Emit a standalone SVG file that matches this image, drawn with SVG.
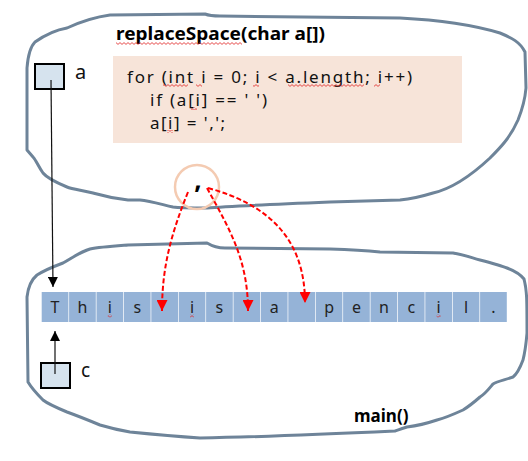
<svg xmlns="http://www.w3.org/2000/svg" width="528" height="461" viewBox="0 0 528 461">
<style>
  .blob { fill: none; stroke: #6E8499; stroke-width: 3; stroke-linejoin: round; }
  .var { fill: #D6E3EE; stroke: #000; stroke-width: 2; }
  .lbl { font-family: "Noto Sans", "Liberation Sans", sans-serif; fill: #111; }
  .title { font-family: "Noto Sans", "Liberation Sans", sans-serif; font-weight: bold; font-size: 17px; fill: #000; }
  .code { font-family: "Noto Sans", "Liberation Sans", sans-serif; font-size: 17px; fill: #111; }
  .cell { fill: #95B3D7; }
  .ch { font-family: "Noto Sans", "Liberation Sans", sans-serif; font-size: 16px; fill: #222; text-anchor: middle; }
  .ptr { fill: none; stroke: #111; stroke-width: 1.2; }
  .red { fill: none; stroke: #FF0000; stroke-width: 2; stroke-dasharray: 5 2.5; }
</style>
<defs>
  <marker id="ah-black" markerUnits="userSpaceOnUse" markerWidth="10" markerHeight="10" viewBox="0 0 10 10" refX="10" refY="5" orient="auto">
    <path d="M0,0 L10,5 L0,10 Z" fill="#000"/>
  </marker>
  <marker id="ah-red" markerUnits="userSpaceOnUse" markerWidth="11" markerHeight="11" viewBox="0 0 10 10" refX="10" refY="5" orient="auto">
    <path d="M0,0 L10,5 L0,10 Z" fill="#FF0000"/>
  </marker>
  <pattern id="sq" width="4" height="3" patternUnits="userSpaceOnUse">
    <path d="M0,0.6 L2,2.4 L4,0.6" fill="none" stroke="#E02020" stroke-width="0.8"/>
  </pattern>
</defs>

<g id="replaceSpace-frame">
  <path class="blob" d="M110,15 L205,14 Q210,16 220,16 L400,18 C440,20 470,24 500,33 C512,38 520,42 525,52 L526,88 C525,100 522,110 518,120 C510,138 500,148 490,158 C475,172 455,188 433,193 C420,197 410,199 400,200 L330,202 C280,204 230,206 207,208 C190,208 180,208 173,207 C160,204 150,201 140,200 L128,200 C110,198 100,195 93,193 C80,190 72,189 67,187 C55,182 47,178 43,173 C38,166 36,160 33,157 L27,150 L27,68 C28,55 30,47 35,42 C45,35 55,30 67,28 C80,22 95,17 110,15 Z"/>
  <text class="title" x="116" y="40" textLength="209" lengthAdjust="spacingAndGlyphs">replaceSpace(char a[])</text>
  <rect x="116" y="42" width="126" height="3" fill="url(#sq)"/>
</g>

<g id="main-frame">
  <path class="blob" d="M128,245 L207,243 C212,246 216,248 225,248 L330,249 C360,250 370,251 380,252 L453,253 C465,255 472,258 480,260 C495,264 502,266 507,268 C515,271 520,274 524,279 C527,290 527,300 527,333 C526,345 525,352 523,360 C520,368 517,374 513,377 C505,380 498,381 493,384 C488,390 485,394 480,397 C472,404 468,407 463,410 C452,415 445,418 437,420 C425,424 415,426 407,427 C400,429 398,430 395,431 C330,434 260,437 200,438 C170,436 150,434 130,432 C118,430 110,428 100,425 C88,420 78,416 67,412 C55,407 48,404 43,400 C36,393 31,387 28,382 L27,297 C28,288 31,280 37,275 C45,270 55,266 63,263 C72,258 80,252 90,249 C100,247 115,246 128,245 Z"/>
  <text class="title" x="354" y="422">main()</text>
</g>

<g id="code">
  <rect x="113" y="56" width="349" height="87" fill="#F7E4D9"/>
  <text class="code" x="127" y="83" textLength="285" lengthAdjust="spacing">for (int i = 0; i &lt; a.length; i++)</text>
  <text class="code" x="150" y="106" textLength="117" lengthAdjust="spacing">if (a[i] == ' ')</text>
  <text class="code" x="150" y="129" textLength="75" lengthAdjust="spacing">a[i] = ',';</text>
  <rect x="163" y="84" width="25" height="3" fill="url(#sq)"/>
  <rect x="196" y="84" width="6" height="3" fill="url(#sq)"/>
  <rect x="253" y="84" width="6" height="3" fill="url(#sq)"/>
  <rect x="288" y="84" width="76" height="3" fill="url(#sq)"/>
  <rect x="374" y="84" width="6" height="3" fill="url(#sq)"/>
  <rect x="191" y="107" width="6" height="3" fill="url(#sq)"/>
  <rect x="167" y="130" width="6" height="3" fill="url(#sq)"/>
</g>

<g id="node-a">
  <rect class="var" x="35" y="64" width="29" height="25"/>
  <text class="lbl" x="75" y="79" font-size="20">a</text>
</g>

<g id="node-c">
  <rect class="var" x="41" y="363" width="29" height="25"/>
  <text class="lbl" x="81" y="377" font-size="19">c</text>
</g>

<g id="array">
  <rect class="cell" x="41.7" y="292" width="26.7" height="30"/>
  <rect class="cell" x="69.1" y="292" width="26.7" height="30"/>
  <rect class="cell" x="96.5" y="292" width="26.7" height="30"/>
  <rect class="cell" x="123.9" y="292" width="26.7" height="30"/>
  <rect class="cell" x="151.3" y="292" width="26.7" height="30"/>
  <rect class="cell" x="178.7" y="292" width="26.7" height="30"/>
  <rect class="cell" x="206.1" y="292" width="26.7" height="30"/>
  <rect class="cell" x="233.5" y="292" width="26.7" height="30"/>
  <rect class="cell" x="260.9" y="292" width="26.7" height="30"/>
  <rect class="cell" x="288.3" y="292" width="26.7" height="30"/>
  <rect class="cell" x="315.7" y="292" width="26.7" height="30"/>
  <rect class="cell" x="343.1" y="292" width="26.7" height="30"/>
  <rect class="cell" x="370.5" y="292" width="26.7" height="30"/>
  <rect class="cell" x="397.9" y="292" width="26.7" height="30"/>
  <rect class="cell" x="425.3" y="292" width="26.7" height="30"/>
  <rect class="cell" x="452.7" y="292" width="26.7" height="30"/>
  <rect class="cell" x="480.1" y="292" width="26.7" height="30"/>
  <text class="ch" x="55.05" y="313">T</text>
  <text class="ch" x="82.45" y="313">h</text>
  <text class="ch" x="109.85" y="313">i</text>
  <text class="ch" x="137.25" y="313">s</text>
  <text class="ch" x="192.05" y="313">i</text>
  <text class="ch" x="219.45" y="313">s</text>
  <text class="ch" x="274.25" y="313">a</text>
  <text class="ch" x="329.05" y="313">p</text>
  <text class="ch" x="356.45" y="313">e</text>
  <text class="ch" x="383.85" y="313">n</text>
  <text class="ch" x="411.25" y="313">c</text>
  <text class="ch" x="438.65" y="313">i</text>
  <text class="ch" x="466.05" y="313">l</text>
  <text class="ch" x="493.45" y="313">.</text>
  <rect x="107.8" y="314.5" width="4" height="3" fill="url(#sq)"/>
  <rect x="190" y="314.5" width="4" height="3" fill="url(#sq)"/>
  <rect x="436.6" y="314.5" width="4" height="3" fill="url(#sq)"/>
</g>

<g id="comma">
  <circle cx="197" cy="187" r="22" fill="none" stroke="#F4CBB2" stroke-width="2.5"/>
  <text x="198" y="189" font-family="Noto Sans, Liberation Sans, sans-serif" font-weight="bold" font-size="26" text-anchor="middle" fill="#000">,</text>
</g>

<g id="connectors">
  <path class="ptr" d="M51,80 L53,287" marker-end="url(#ah-black)"/>
  <path class="ptr" d="M55,374 L55,331" marker-end="url(#ah-black)"/>
  <path class="red" d="M188,192 C172,232 162,265 162,311" marker-end="url(#ah-red)"/>
  <path class="red" d="M207,188 C230,230 248,260 248,311" marker-end="url(#ah-red)"/>
  <path class="red" d="M208,188 C270,205 305,240 305,303" marker-end="url(#ah-red)"/>
</g>
</svg>
